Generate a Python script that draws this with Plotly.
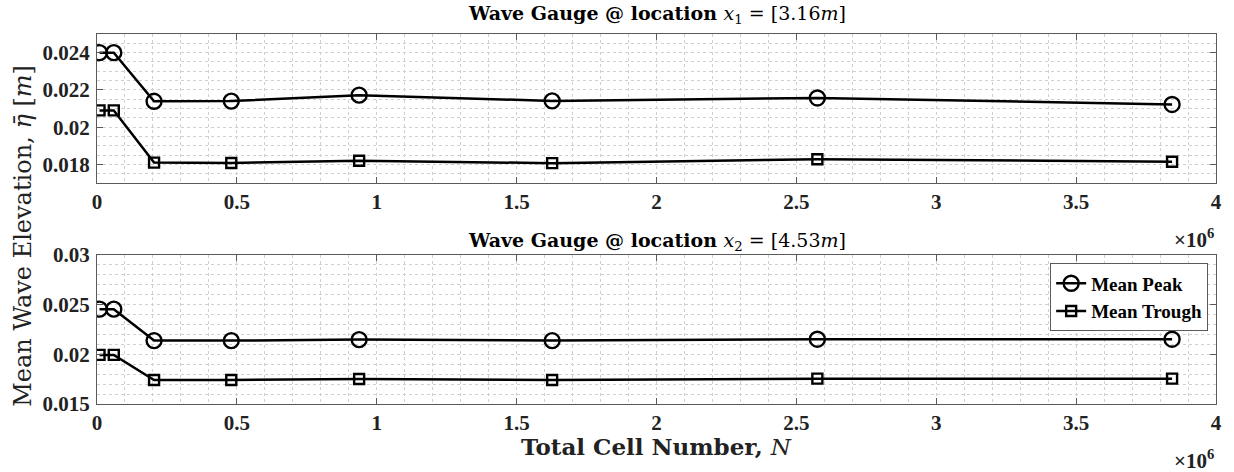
import plotly.graph_objects as go

# ---- data ----
cells = [0.009e6, 0.06e6, 0.204e6, 0.48e6, 0.937e6, 1.627e6, 2.575e6, 3.843e6]
x1_peak = [0.0240, 0.0240, 0.02139, 0.02140, 0.02172, 0.02141, 0.02157, 0.02122]
x1_trough = [0.02090, 0.02090, 0.01810, 0.01808, 0.01820, 0.01807, 0.01828, 0.01815]
x2_peak = [0.02454, 0.02454, 0.02138, 0.02138, 0.02148, 0.02138, 0.02152, 0.02152]
x2_trough = [0.01994, 0.01994, 0.01742, 0.01742, 0.01752, 0.01742, 0.01755, 0.01755]

x_tickvals = [0, 0.5e6, 1e6, 1.5e6, 2e6, 2.5e6, 3e6, 3.5e6, 4e6]
x_ticktext = ["0", "0.5", "1", "1.5", "2", "2.5", "3", "3.5", "4"]
y1_tickvals = [0.018, 0.020, 0.022, 0.024]
y1_ticktext = ["0.018", "0.02", "0.022", "0.024"]
y2_tickvals = [0.015, 0.020, 0.025, 0.030]
y2_ticktext = ["0.015", "0.02", "0.025", "0.03"]

TIMES = "Liberation Serif"
CM = "DejaVu Serif"
GRID = "#d0d0d0"
AX = "#5a5a5a"

fig = go.Figure()

def add_series(xa, ya, peak, trough, show):
    fig.add_trace(go.Scatter(
        x=cells, y=peak, xaxis=xa, yaxis=ya, mode="lines+markers", name="Mean Peak",
        showlegend=show, line=dict(color="black", width=2.5),
        marker=dict(symbol="circle-open", size=15, color="black", line=dict(width=2.4, color="black"))))
    fig.add_trace(go.Scatter(
        x=cells, y=trough, xaxis=xa, yaxis=ya, mode="lines+markers", name="Mean Trough",
        showlegend=show, line=dict(color="black", width=2.5),
        marker=dict(symbol="square-open", size=10, color="black", line=dict(width=2.4, color="black"))))

add_series("x", "y", x1_peak, x1_trough, False)
add_series("x2", "y2", x2_peak, x2_trough, True)

TICKFONT = dict(family=TIMES, size=21, color="#222", weight="bold")

def xaxis(anchor):
    return dict(anchor=anchor, range=[0, 4e6], tickvals=x_tickvals, ticktext=x_ticktext,
                showline=True, mirror="ticks", linecolor=AX, linewidth=1.2,
                ticks="inside", ticklen=6, tickcolor=AX, tickwidth=1,
                showgrid=True, gridcolor=GRID, griddash="dot", gridwidth=1,
                minor=dict(dtick=1e5, showgrid=True, gridcolor=GRID, griddash="dot", gridwidth=1),
                zeroline=False, tickfont=TICKFONT)

def yaxis(anchor, dom, rng, tv, tt, dm):
    return dict(anchor=anchor, domain=dom, range=rng, tickvals=tv, ticktext=tt,
                showline=True, mirror="ticks", linecolor=AX, linewidth=1.2,
                ticks="inside", ticklen=6, tickcolor=AX, tickwidth=1,
                showgrid=True, gridcolor=GRID, griddash="dot", gridwidth=1,
                minor=dict(dtick=dm, showgrid=True, gridcolor=GRID, griddash="dot", gridwidth=1),
                zeroline=False, tickfont=TICKFONT, ticklabelstandoff=2)

fig.update_layout(
    width=1234, height=472,
    margin=dict(l=97, r=14, t=34, b=68),
    plot_bgcolor="white", paper_bgcolor="white",
    xaxis=xaxis("y"),
    xaxis2=xaxis("y2"),
    yaxis=yaxis("x", [0.597, 1.0], [0.017, 0.025], y1_tickvals, y1_ticktext, 0.0005),
    yaxis2=yaxis("x2", [0.0, 0.403], [0.015, 0.030], y2_tickvals, y2_ticktext, 0.001),
    legend=dict(x=0.993, y=0.38, xanchor="right", yanchor="top",
                bgcolor="white", bordercolor=AX, borderwidth=1,
                font=dict(family=TIMES, size=19, color="black", weight="bold"),
                itemwidth=30, tracegroupgap=0),
    showlegend=True,
)

ann = [
    dict(text="<b>Wave Gauge @ location </b><i>x</i><sub>1</sub> = [3.16<i>m</i>]",
         x=0.5, y=1.054, font=dict(family=CM, size=19, color="black")),
    dict(text="<b>Wave Gauge @ location </b><i>x</i><sub>2</sub> = [4.53<i>m</i>]",
         x=0.5, y=0.4405, font=dict(family=CM, size=19, color="black")),
    dict(text="<b>Total Cell Number, </b><i>N</i>",
         x=0.5, y=-0.115, font=dict(family=CM, size=23, color="#222")),
    dict(text="Mean Wave Elevation, <i>η̄</i> [<i>m</i>]", textangle=-90,
         x=-0.066, y=0.455, font=dict(family=CM, size=24, color="#222")),
    dict(text="×10<sup>6</sup>", x=1.0, xanchor="right", y=0.4486,
         font=dict(family=TIMES, size=21, color="#222", weight="bold")),
    dict(text="×10<sup>6</sup>", x=1.0, xanchor="right", y=-0.151,
         font=dict(family=TIMES, size=21, color="#222", weight="bold")),
]
for a in ann:
    a.setdefault("xanchor", "center")
    a.update(xref="paper", yref="paper", showarrow=False, yanchor="middle")
    fig.add_annotation(**a)

fig.write_html("out.html")
